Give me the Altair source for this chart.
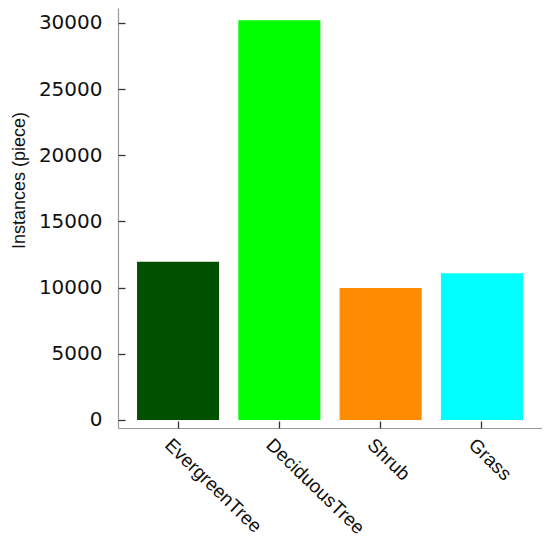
import altair as alt
import pandas as pd

categories = ["EvergreenTree", "DeciduousTree", "Shrub", "Grass"]
values = [11950, 30200, 9980, 11080]
colors = ["#005000", "#00ff00", "#ff8c00", "#00ffff"]
y_ticks = [0, 5000, 10000, 15000, 20000, 25000, 30000]

df = pd.DataFrame({"category": categories, "value": values})

xscale = alt.Scale(domain=categories, paddingInner=0.19, paddingOuter=0.188)
yscale = alt.Scale(domain=[-605, 31133], nice=False, zero=False)

bars = alt.Chart(df).mark_bar().encode(
    x=alt.X("category:N", sort=categories, scale=xscale,
            axis=alt.Axis(title=None, labelAngle=44, labelAlign="left", labelBaseline="top",
                          ticks=False, labelPadding=7, labelFont="Liberation Sans",
                          labelFontSize=19, labelColor="#111", domainColor="#999",
                          domainWidth=1.2, labelOffset=-4)),
    y=alt.Y("value:Q", scale=yscale,
            axis=alt.Axis(values=y_ticks, format="d", ticks=False, grid=False, labelPadding=16,
                          labelFont="DejaVu Sans", labelFontSize=20, labelColor="#111",
                          domainColor="#999", domainWidth=1.2,
                          title="Instances (piece)", titleFont="Liberation Sans",
                          titleFontSize=18, titleFontWeight="normal", titleColor="#111",
                          titlePadding=10, titleY=172)),
    color=alt.Color("category:N", scale=alt.Scale(domain=categories, range=colors), legend=None),
)

ticks = alt.Chart(df).mark_bar(opacity=0).encode(
    x=alt.X("category:N", sort=categories, scale=xscale,
            axis=alt.Axis(orient="bottom", offset=-7, labels=False, domain=False, ticks=True,
                          tickSize=7, tickColor="#333", tickWidth=1.3, title=None)),
    y=alt.Y("value:Q", scale=yscale,
            axis=alt.Axis(orient="left", offset=-7, labels=False, domain=False, ticks=True,
                          tickSize=7, tickColor="#333", tickWidth=1.3, grid=False,
                          values=y_ticks, title=None)),
)

chart = alt.layer(bars, ticks).resolve_axis(x="independent", y="independent").properties(
    width=424, height=420,
    autosize=alt.AutoSizeParams(type="none"),
    padding={"left": 110, "top": 0, "right": 0, "bottom": 110},
).configure_view(stroke=None).configure_axis(grid=False)

chart.save("out.html", embed_options={"renderer": "svg", "actions": False})
